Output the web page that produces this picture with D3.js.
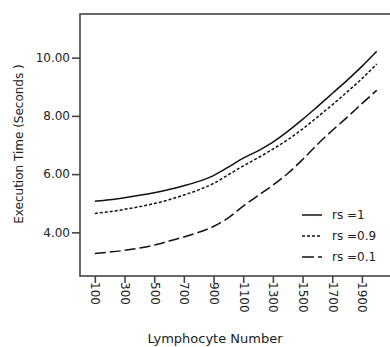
<!DOCTYPE html>
<html>
<head>
<meta charset="utf-8">
<script src="https://cdn.jsdelivr.net/npm/d3@7"></script>
<style>
  html, body { margin: 0; padding: 0; background: #fff; }
  svg { display: block; }
  text { font-family: "DejaVu Sans", Verdana, sans-serif; fill: #222; }
</style>
</head>
<body>
<svg id="chart" width="390" height="347"></svg>
<script>
const lymphocytes = [100,200,300,400,500,600,700,800,900,1000,1100,1200,1300,1400,1500,1600,1700,1800,1900,2000];
const rs1  = [5.07,5.12,5.19,5.27,5.36,5.47,5.60,5.75,5.95,6.24,6.55,6.80,7.10,7.47,7.88,8.32,8.77,9.22,9.70,10.22];
const rs09 = [4.65,4.71,4.79,4.88,4.99,5.12,5.28,5.46,5.68,5.98,6.28,6.56,6.86,7.18,7.55,7.96,8.38,8.82,9.28,9.78];
const rs01 = [3.27,3.32,3.38,3.46,3.56,3.70,3.84,4.00,4.20,4.50,4.90,5.26,5.62,6.02,6.50,7.02,7.50,7.95,8.42,8.88];
const seriesNames = ["rs =1", "rs =0.9", "rs =0.1"];
const seriesDash = ["none", "3,2", "11,4"];
const xTicks = [100,300,500,700,900,1100,1300,1500,1700,1900];
const yTicks = [4,6,8,10];
const xTitle = "Lymphocyte Number";
const yTitle = "Execution Time (Seconds )";

(function () {
const svg = d3.select("#chart");
const mLeft = 80, mTop = 14, mBottom = 276, mRight = 399;

const x = d3.scaleLinear().domain([0, 2150]).range([mLeft, mRight]);
const y = d3.scaleLinear().domain([2.5, 11.5]).range([mBottom, mTop]);

// frame
svg.append("rect")
  .attr("x", mLeft).attr("y", mTop)
  .attr("width", mRight - mLeft).attr("height", mBottom - mTop)
  .attr("fill", "none").attr("stroke", "#444").attr("stroke-width", 1.6);

// y axis
const gy = svg.append("g").attr("transform", `translate(${mLeft},0)`)
  .call(d3.axisLeft(y).tickValues(yTicks).tickFormat(d3.format(".2f")).tickSize(8).tickPadding(2));
gy.select(".domain").remove();
gy.selectAll(".tick line").attr("stroke", "#444").attr("stroke-width", 1.6);
gy.selectAll(".tick text").attr("font-size", 12).attr("fill", "#444")
  .style("font-family", "'DejaVu Sans', Verdana, sans-serif");

// x axis
const gx = svg.append("g").attr("transform", `translate(0,${mBottom})`)
  .call(d3.axisBottom(x).tickValues(xTicks).tickFormat(d3.format("d")).tickSize(7).tickPadding(0));
gx.select(".domain").remove();
gx.selectAll(".tick line").attr("stroke", "#444").attr("stroke-width", 1.6);
gx.selectAll(".tick text")
  .attr("font-size", 12).attr("fill", "#444")
  .style("font-family", "'DejaVu Sans', Verdana, sans-serif")
  .attr("text-anchor", "start")
  .attr("transform", "rotate(90)")
  .attr("x", 6).attr("y", 0).attr("dy", "0.33em");

// lines
const allSeries = [rs1, rs09, rs01];
const line = d3.line().x((d, i) => x(lymphocytes[i])).y(d => y(d)).curve(d3.curveMonotoneX);
allSeries.forEach((vals, k) => {
  svg.append("path").datum(vals)
    .attr("d", line)
    .attr("fill", "none").attr("stroke", "#111").attr("stroke-width", 1.5)
    .attr("stroke-dasharray", seriesDash[k]);
});

// legend
const legY = [215, 236, 257];
seriesNames.forEach((name, k) => {
  svg.append("line").attr("x1", 302).attr("x2", 322).attr("y1", legY[k]).attr("y2", legY[k])
    .attr("stroke", "#111").attr("stroke-width", 1.5).attr("stroke-dasharray", k === 2 ? "12,4" : seriesDash[k]);
  svg.append("text").attr("x", 332).attr("y", legY[k]).attr("dy", "0.35em")
    .attr("font-size", 12).attr("fill", "#333").text(name);
});

// axis titles
svg.append("text").attr("x", 215).attr("y", 343).attr("text-anchor", "middle")
  .attr("font-size", 13).attr("fill", "#333").text(xTitle);
svg.append("text").attr("transform", "translate(23,144) rotate(-90)").attr("text-anchor", "middle")
  .attr("font-size", 12).attr("fill", "#333").text(yTitle);
})();
</script>
</body>
</html>
